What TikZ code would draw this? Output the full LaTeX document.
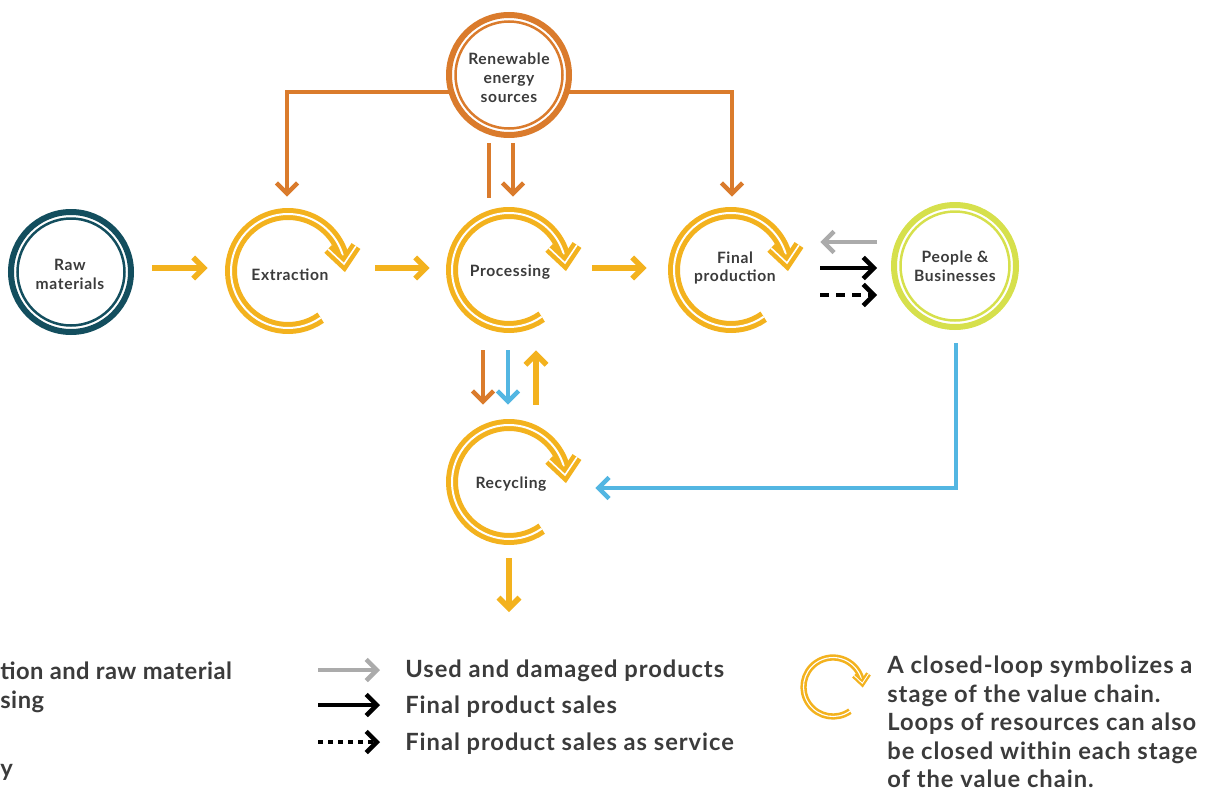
\documentclass[tikz,border=0pt]{standalone}
\usepackage{fontspec}
\setmainfont{Lato}[LetterSpace=4]
\usetikzlibrary{arrows.meta}
\newdimen\px \px=0.02cm
\definecolor{loopY}{HTML}{F3B21E}
\definecolor{renO}{HTML}{DA7B2C}
\definecolor{rawT}{HTML}{134E5E}
\definecolor{pplG}{HTML}{D6E04C}
\definecolor{recB}{HTML}{53B6E2}
\definecolor{usedG}{HTML}{ABABAB}
\definecolor{txt}{HTML}{3B3B3B}
\tikzset{
  lbl/.style={font=\bfseries\fontsize{8.9}{10.8}\selectfont, text=txt, align=center, inner sep=0pt},
  ringnode/.style={circle, draw=#1, line width=6*\px, minimum size=120*\px, inner sep=0pt},
  loopnode/.style={circle, minimum size=126*\px, inner sep=0pt},
  loopline/.style={draw=loopY, line width=5*\px, double=white, double distance=2*\px, line cap=butt},
  loopchev/.style={draw=loopY, line width=4.5*\px, double=white, double distance=1.6*\px, line join=miter, line cap=butt},
  keyline/.style={draw=loopY, line width=2.6*\px, double=white, double distance=1.1*\px, line cap=butt},
  keychev/.style={draw=loopY, line width=2.3*\px, double=white, double distance=0.9*\px, line join=miter, line cap=butt},
  tipped/.style={-{Straight Barb[length=6pt, width=12pt, sharp]}},
  yarr/.style={draw=loopY, line width=5.5*\px, tipped},
  oline/.style={draw=renO, line width=4.5*\px},
  oarr/.style={oline, tipped},
  barr/.style={draw=recB, line width=4.5*\px, tipped},
  garr/.style={draw=usedG, line width=4.5*\px, tipped},
  karr/.style={draw=black, line width=4.5*\px, tipped},
  darr/.style={karr, dash pattern=on 0.18cm off 0.14cm},
  legtxt/.style={font=\bfseries\fontsize{13.5}{16.15}\selectfont, text=txt, inner sep=0pt},
}
\newcommand\cycleloop[1]{%
  \draw[loopline] (#1.center) ++(55:57) arc[start angle=55, end angle=350, radius=57];
  \draw[loopchev] (#1.center) ++(40,-22) -- ++(16,15) -- ++(12,-18);
}
\begin{document}
\begin{tikzpicture}[x=0.02cm, y=-0.02cm]
\useasboundingbox (0,0) rectangle (1208,791);
\clip (0,0) rectangle (1208,791);

% ring nodes
\node[ringnode=rawT] (raw) at (71,272) {};
\node[ringnode=renO] (ren) at (509,75) {};
\node[ringnode=pplG, minimum size=122*\px] (ppl) at (955,266) {};
\draw[rawT, line width=2.5*\px] (raw.center) circle[radius=53.5];
\draw[renO, line width=2.5*\px] (ren.center) circle[radius=53.5];
\draw[pplG, line width=2.5*\px] (ppl.center) circle[radius=54.5];
\node[lbl] (rawT) at (70,274) {Raw\\materials};
\node[lbl] (renT) at (509,78) {Renewable\\energy\\sources};
\node[lbl] (pplT) at (955,266) {People \&\\Businesses};

% loop nodes
\node[loopnode] (extr) at (288,271) {};
\node[loopnode] (proc) at (509,270) {};
\node[loopnode] (final) at (731,270) {};
\node[loopnode] (recy) at (509,482) {};
\node[loopnode, minimum size=64*\px] (key) at (833,687) {};
\node[lbl] (extrT) at (290,275) {Extraction};
\node[lbl] (procT) at (510,272) {Processing};
\node[lbl] (finalT) at (735,268) {Final\\production};
\node[lbl] (recyT) at (511,484) {Recycling};
\cycleloop{extr}
\cycleloop{proc}
\cycleloop{final}
\cycleloop{recy}
\draw[keyline] (key.center) ++(55:29.5) arc[start angle=55, end angle=350, radius=29.5];
\draw[keychev] (key.center) ++(21,-11.5) -- ++(8.3,7.8) -- ++(6.2,-9.4);

% main flow
\coordinate (a1) at ([yshift=4*\px]raw.east);
\draw[yarr, shorten <=18*\px, shorten >=17*\px] (a1) -- (a1 -| extr.west);
\coordinate (a2) at ([yshift=3*\px]extr.east);
\draw[yarr, shorten <=24*\px, shorten >=16*\px] (a2) -- (a2 -| proc.west);
\coordinate (a3) at ([yshift=2*\px]proc.east);
\draw[yarr, shorten <=20*\px, shorten >=21*\px] (a3) -- (a3 -| final.west);

% renewable energy
\draw[oarr, shorten >=11*\px] ([xshift=3*\px, yshift=-17*\px]ren.west) -| ([xshift=-1*\px]extr.north);
\draw[oarr, shorten >=10*\px] ([xshift=-3*\px, yshift=-17*\px]ren.east) -| ([xshift=1*\px]final.north);
\draw[oline, shorten <=5*\px, shorten >=9*\px] ([xshift=-20*\px]ren.south) -- ([xshift=-20*\px]proc.north);
\draw[oarr, shorten <=5*\px, shorten >=10*\px] ([xshift=4*\px]ren.south) -- ([xshift=4*\px]proc.north);

% processing <-> recycling
\draw[oarr, shorten <=17*\px, shorten >=14*\px] ([xshift=-26*\px]proc.south) -- ([xshift=-26*\px]recy.north);
\draw[barr, shorten <=17*\px, shorten >=14*\px] ([xshift=-1*\px]proc.south) -- ([xshift=-1*\px]recy.north);
\draw[yarr, shorten <=14*\px, shorten >=17*\px] ([xshift=27*\px]recy.north) -- ([xshift=27*\px]proc.south);
\coordinate (out) at (509,612);
\draw[yarr, shorten <=13*\px] (recy.south) -- (out);

% people & businesses
\draw[barr, shorten <=13*\px, shorten >=23*\px] ([xshift=1*\px]ppl.south) |- ([yshift=-6*\px]recy.east);
\coordinate (g1) at ([xshift=-14*\px, yshift=24*\px]ppl.west);
\draw[garr, shorten >=26*\px] (g1) -- (g1 -| final.east);
\coordinate (b1) at ([xshift=26*\px, yshift=2*\px]final.east);
\draw[karr, shorten >=14*\px] (b1) -- (b1 -| ppl.west);
\coordinate (d1) at ([xshift=26*\px, yshift=-25*\px]final.east);
\draw[darr, shorten >=14*\px] (d1) -- (d1 -| ppl.west);

% legend
\node[legtxt, anchor=base west] (lx1) at (0,679) {\addfontfeature{LetterSpace=2}tion and raw material};
\node[legtxt, anchor=base west] (lx2) at (0,708) {\addfontfeature{LetterSpace=2}sing};
\node[legtxt, anchor=base west] (lx3) at (0,776) {y};
\node[legtxt, anchor=base west] (l1) at (405,677) {Used and damaged products};
\node[legtxt, anchor=base west] (l2) at (405,713) {Final product sales};
\node[legtxt, anchor=base west] (l3) at (405,750) {Final product sales as service};
\draw[garr] ([shift={(-87,-7)}]l1.base west) -- ([shift={(-25,-7)}]l1.base west);
\draw[karr] ([shift={(-87,-8)}]l2.base west) -- ([shift={(-25,-8)}]l2.base west);
\draw[karr, dash pattern=on 0.1cm off 0.1cm] ([shift={(-87,-8)}]l3.base west) -- ([shift={(-25,-8)}]l3.base west);
\node[legtxt, anchor=north west, align=left] (note) at (887,656)
  {A closed-loop symbolizes a\\stage of the value chain.\\Loops of resources can also\\be closed within each stage\\of the value chain.};
\end{tikzpicture}
\end{document}
